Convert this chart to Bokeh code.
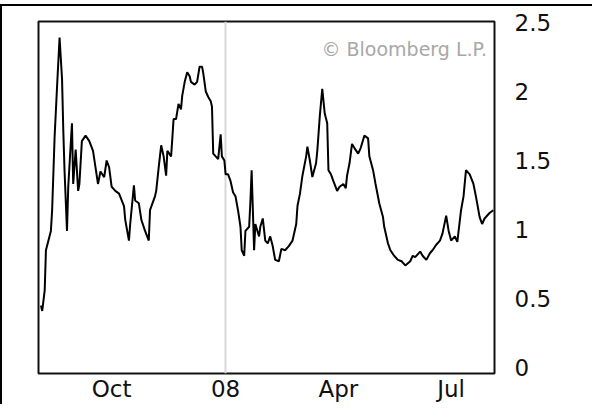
import pandas as pd
from bokeh.plotting import figure
from bokeh.models import (Range1d, FixedTicker, NumeralTickFormatter, Label)
from bokeh.embed import file_html
from bokeh.resources import INLINE

dates = [
    "2007-08-05", "2007-08-06", "2007-08-08", "2007-08-09", "2007-08-13", "2007-08-14", "2007-08-16", "2007-08-18",
    "2007-08-20", "2007-08-22", "2007-08-23", "2007-08-24", "2007-08-26", "2007-08-27", "2007-08-30", "2007-08-31",
    "2007-09-02", "2007-09-04", "2007-09-05", "2007-09-07", "2007-09-10", "2007-09-13", "2007-09-16", "2007-09-18",
    "2007-09-20", "2007-09-22", "2007-09-25", "2007-09-27", "2007-09-29",
    "2007-10-01", "2007-10-04", "2007-10-07", "2007-10-11", "2007-10-12", "2007-10-15", "2007-10-16", "2007-10-19",
    "2007-10-20", "2007-10-23", "2007-10-25", "2007-10-28", "2007-10-31",
    "2007-11-01", "2007-11-05", "2007-11-06", "2007-11-08", "2007-11-10", "2007-11-12", "2007-11-14", "2007-11-15",
    "2007-11-18", "2007-11-19", "2007-11-20", "2007-11-22", "2007-11-24", "2007-11-26", "2007-11-27", "2007-11-29",
    "2007-12-01", "2007-12-03", "2007-12-04", "2007-12-07", "2007-12-09", "2007-12-11", "2007-12-13", "2007-12-14",
    "2007-12-16", "2007-12-18", "2007-12-20", "2007-12-21", "2007-12-22", "2007-12-24", "2007-12-26", "2007-12-28",
    "2007-12-29", "2007-12-31",
    "2008-01-01", "2008-01-03", "2008-01-05", "2008-01-07", "2008-01-09", "2008-01-11", "2008-01-13", "2008-01-14",
    "2008-01-16", "2008-01-17", "2008-01-20", "2008-01-21", "2008-01-22", "2008-01-24", "2008-01-25", "2008-01-28",
    "2008-01-29", "2008-01-31",
    "2008-02-02", "2008-02-04", "2008-02-06", "2008-02-08", "2008-02-10", "2008-02-13", "2008-02-15", "2008-02-18",
    "2008-02-21", "2008-02-24", "2008-02-27", "2008-02-28",
    "2008-03-01", "2008-03-03", "2008-03-06", "2008-03-07", "2008-03-09", "2008-03-11", "2008-03-14", "2008-03-15",
    "2008-03-17", "2008-03-19", "2008-03-21", "2008-03-23", "2008-03-24", "2008-03-26", "2008-03-28", "2008-03-31",
    "2008-04-02", "2008-04-05", "2008-04-07", "2008-04-08", "2008-04-10", "2008-04-12", "2008-04-14", "2008-04-17",
    "2008-04-19", "2008-04-22", "2008-04-25", "2008-04-26", "2008-04-29",
    "2008-05-01", "2008-05-04", "2008-05-07", "2008-05-08", "2008-05-11", "2008-05-13", "2008-05-16", "2008-05-19",
    "2008-05-22", "2008-05-25", "2008-05-29", "2008-05-31",
    "2008-06-02", "2008-06-06", "2008-06-08", "2008-06-11", "2008-06-14", "2008-06-16", "2008-06-19", "2008-06-22",
    "2008-06-24", "2008-06-27", "2008-06-29",
    "2008-07-01", "2008-07-04", "2008-07-06", "2008-07-09", "2008-07-11", "2008-07-13", "2008-07-16", "2008-07-19",
    "2008-07-21", "2008-07-24", "2008-07-26", "2008-07-28",
    "2008-08-01", "2008-08-04",
]

values = [
    0.45, 0.41, 0.56, 0.85, 0.99, 1.14, 1.67, 2.04, 2.39, 2.09, 1.72, 1.43, 0.99, 1.31, 1.77, 1.33,
    1.58, 1.28, 1.33, 1.64, 1.68, 1.64, 1.57, 1.45, 1.33, 1.42, 1.38, 1.50, 1.45,
    1.31, 1.28, 1.26, 1.17, 1.07, 0.92, 1.04, 1.32, 1.21, 1.19, 1.07, 0.99, 0.92,
    1.14, 1.24, 1.28, 1.45, 1.61, 1.53, 1.39, 1.57, 1.53, 1.66, 1.80, 1.80, 1.91, 1.87, 1.97, 2.07,
    2.14, 2.11, 2.07, 2.05, 2.07, 2.18, 2.18, 2.13, 2.00, 1.96, 1.93, 1.89, 1.55, 1.53, 1.51, 1.69, 1.53, 1.50,
    1.40, 1.40, 1.35, 1.27, 1.24, 1.14, 1.02, 0.85, 0.81, 0.99, 1.02, 1.20, 1.43, 0.85, 1.04, 0.95, 1.02, 1.08,
    0.92, 0.90, 0.95, 0.88, 0.78, 0.77, 0.86, 0.85, 0.88, 0.92, 1.04, 1.17,
    1.26, 1.39, 1.53, 1.60, 1.50, 1.38, 1.48, 1.57, 1.82, 2.02, 1.84, 1.77, 1.43, 1.40, 1.35, 1.28,
    1.31, 1.33, 1.30, 1.39, 1.48, 1.62, 1.59, 1.55, 1.59, 1.68, 1.66, 1.53, 1.43,
    1.33, 1.19, 1.09, 1.02, 0.90, 0.85, 0.81, 0.78, 0.77, 0.74, 0.77, 0.81,
    0.80, 0.84, 0.81, 0.78, 0.83, 0.85, 0.89, 0.92, 0.97, 1.10, 0.99,
    0.92, 0.95, 0.91, 1.14, 1.24, 1.43, 1.40, 1.33, 1.24, 1.09, 1.04, 1.08,
    1.12, 1.14,
]

xtick_dates = ["2007-10-01", "2008-01-01", "2008-04-01", "2008-07-01"]
xtick_labels = ["Oct", "08", "Apr", "Jul"]
ytick_values = [0, 0.5, 1, 1.5, 2, 2.5]
watermark = "\u00a9 Bloomberg L.P."

def ms(d):
    return float(pd.Timestamp(d).value // 10**6)

x = pd.to_datetime(dates)
FONT = "DejaVu Sans"

p = figure(frame_width=456, frame_height=352, output_backend="svg", toolbar_location=None,
           x_axis_type="datetime", y_axis_location="right",
           x_range=Range1d(ms("2007-08-03"), ms("2008-08-05")),
           y_range=Range1d(-0.043, 2.507),
           min_border_left=36, min_border_right=98, min_border_top=15, min_border_bottom=29,
           margin=(4, 0, 0, 0),
           styles={"border-left": "2px solid #000", "border-top": "2px solid #000"})

p.background_fill_color = "white"
p.border_fill_color = "white"
p.outline_line_color = "#111111"
p.outline_line_width = 2

# grid: only the year boundary
p.ygrid.visible = False
p.xgrid.ticker = FixedTicker(ticks=[ms(xtick_dates[1])])
p.xgrid.grid_line_color = "#d8d8d8"
p.xgrid.grid_line_width = 2

p.line(x, values, line_color="black", line_width=2)

xa = p.xaxis[0]
xa.ticker = FixedTicker(ticks=[ms(d) for d in xtick_dates])
xa.major_label_overrides = {ms(d): lab for d, lab in zip(xtick_dates, xtick_labels)}
xa.axis_line_color = None
xa.major_tick_line_color = None
xa.minor_tick_line_color = None
xa.major_tick_out = 0
xa.major_label_standoff = 2
xa.major_label_text_font = FONT
xa.major_label_text_font_size = "23px"
xa.major_label_text_color = "#111111"

ya = p.yaxis[0]
ya.ticker = FixedTicker(ticks=ytick_values)
ya.formatter = NumeralTickFormatter(format="0.[0]")
ya.axis_line_color = None
ya.major_tick_line_color = None
ya.minor_tick_line_color = None
ya.major_tick_out = 0
ya.major_label_standoff = 20
ya.major_label_text_font = FONT
ya.major_label_text_font_size = "23px"
ya.major_label_text_color = "#111111"

p.add_layout(Label(x=ms("2008-07-30"), y=2.31, text=watermark, text_align="right",
                   text_baseline="middle", text_font=FONT, text_font_size="19px",
                   text_color="#a8a8a8"))

open("out.html", "w").write(file_html(p, INLINE))
